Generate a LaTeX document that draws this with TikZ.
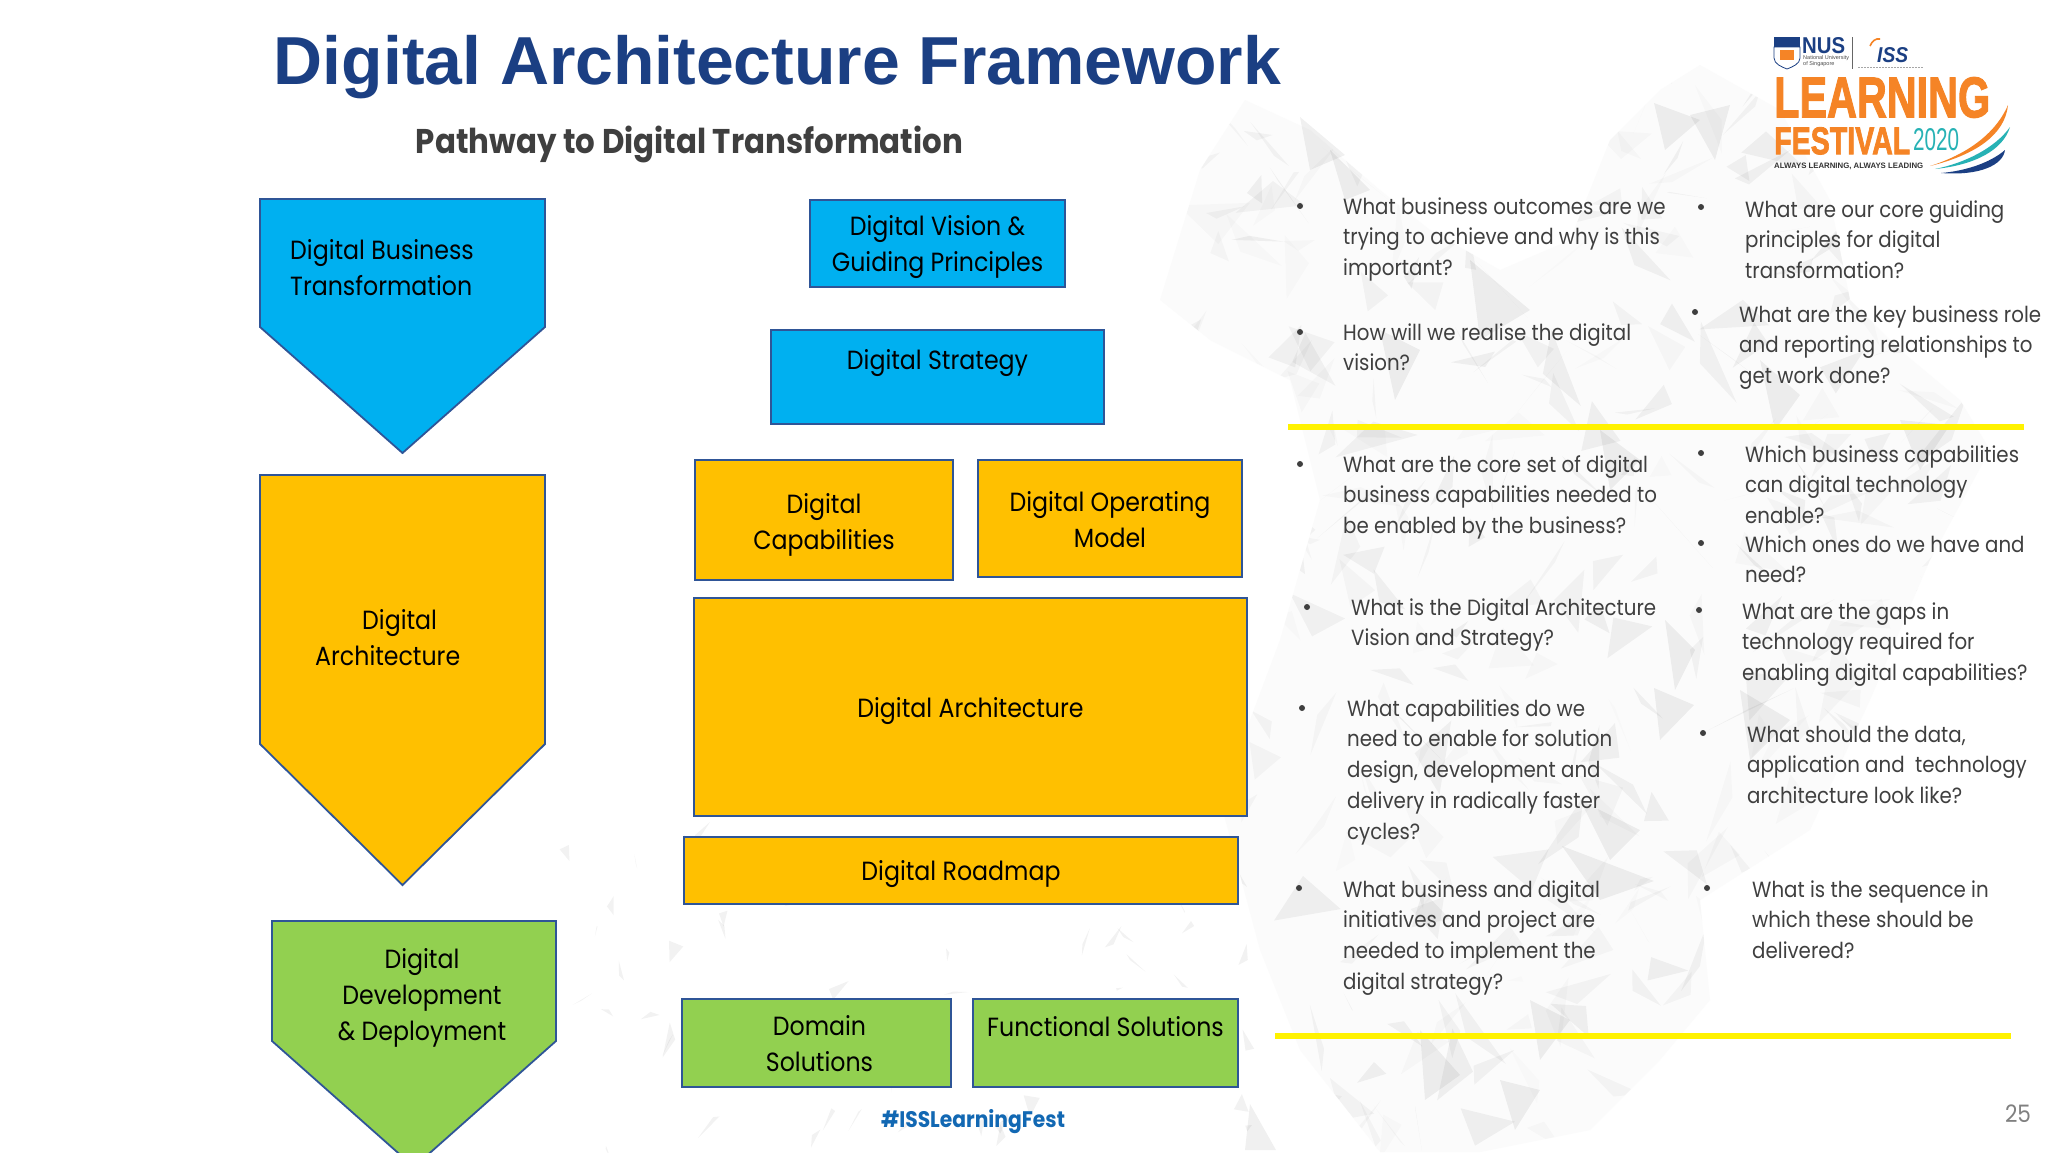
\documentclass[tikz,border=0pt]{standalone}
\usepackage{fontspec}
\usepackage{graphicx}
\setmainfont{Liberation Sans}
\newfontfamily\bodyfnt[FakeStretch=0.9]{Poppins}
\newfontfamily\titlefnt{Liberation Sans}
\newfontfamily\logofnt[BoldFeatures={FakeBold=2.2}]{Liberation Sans}
\definecolor{bluefill}{HTML}{00B0F0}
\definecolor{goldfill}{HTML}{FFC000}
\definecolor{greenfill}{HTML}{92D050}
\definecolor{edgeblue}{HTML}{2F5597}
\definecolor{titleblue}{HTML}{1B3F83}
\definecolor{bodygray}{HTML}{3F3F3F}
\definecolor{tagblue}{HTML}{1268B3}
\definecolor{logoorange}{HTML}{F58426}
\definecolor{logoteal}{HTML}{27B2B5}
\definecolor{logonavy}{HTML}{1B3F83}
\newcommand\qblock[4]{\node[qtext] (#1) at (#2,#3-17) {\rule{0pt}{24pt}#4};}
\newcommand\qdot[3]{\node[qbullet] (#1) at (#2,#3) {};}
\newcommand\lifted[1]{\rule{0pt}{#1pt}}
\tikzset{
  qtext/.style={anchor=north west,inner sep=0pt,align=left,text=bodygray,font=\bodyfnt\fontsize{22}{30.7}\selectfont},
  qbullet/.style={circle,fill=bodygray,inner sep=0pt,minimum size=6pt},
  boxlabel/.style={align=center,text=black,font=\bodyfnt\fontsize{26.3}{36}\selectfont},
  flowbox/.style={rectangle,draw=edgeblue,line width=1.8pt,inner sep=0pt,boxlabel},
  pentagon/.style={draw=edgeblue,line width=1.8pt,line join=miter},
  rule/.style={line width=5.5pt,yellow},
  logotext/.style={inner sep=0pt,anchor=north west}
}
\begin{document}
\begin{tikzpicture}[x=1pt,y=-1pt]
\useasboundingbox (0,0) rectangle (2048,1152);
\clip (0,0) rectangle (2048,1152);
\fill[white] (0,0) rectangle (2048,1152);
% --- low-poly background figure
\pgfmathsetseed{41}
\begin{scope}
\def\sil{(1160,300)--(1200,170)--(1245,100)--(1310,130)--(1380,190)--(1430,230)--(1500,270)--(1570,240)--(1610,140)--(1660,90)--(1700,65)--(1780,110)--(1830,200)--(1850,300)--(1900,350)--(1960,400)--(1990,450)--(1930,560)--(1870,700)--(1810,830)--(1700,900)--(1710,1000)--(1660,1060)--(1590,1130)--(1480,1152)--(1380,1152)--(1300,1050)--(1260,950)--(1220,800)--(1280,640)--(1320,500)--(1290,380)--(1210,340)--cycle}
\fill[black!1.5] \sil;
\clip \sil;
\foreach \i in {1,...,420}{
  \pgfmathsetmacro\ax{1150+850*rnd}
  \pgfmathsetmacro\ay{60+1090*rnd}
  \pgfmathsetmacro\bx{\ax+(rnd-.5)*90}
  \pgfmathsetmacro\by{\ay+(rnd-.5)*90}
  \pgfmathsetmacro\cx{\ax+(rnd-.5)*90}
  \pgfmathsetmacro\cy{\ay+(rnd-.5)*90}
  \pgfmathsetmacro\op{0.012+0.04*rnd}
  \fill[black,opacity=\op] (\ax,\ay)--(\bx,\by)--(\cx,\cy)--cycle;
}
\end{scope}
\foreach \pa/\pb/\pc in {
 {1300,117}/{1345,155}/{1310,170},{1330,150}/{1370,190}/{1345,200},
 {1654,103}/{1700,120}/{1665,150},{1690,115}/{1730,105}/{1715,160},
 {1654,688}/{1694,705}/{1660,740},{1665,620}/{1695,650}/{1675,690},
 {1562,846}/{1654,881}/{1600,900},{1580,800}/{1640,830}/{1610,860},
 {1250,1104}/{1276,1150}/{1245,1150},{1420,1030}/{1460,1075}/{1425,1100},
 {1530,1000}/{1570,1020}/{1540,1060},{1500,1080}/{1540,1090}/{1515,1130},
 {1740,690}/{1790,720}/{1750,760},{1470,260}/{1530,310}/{1480,340},
 {1380,330}/{1420,350}/{1395,400},{1600,430}/{1640,460}/{1610,490},
 {1760,360}/{1800,395}/{1775,430},{1900,420}/{1950,425}/{1920,470}}{
  \fill[black,opacity=.06] (\pa)--(\pb)--(\pc)--cycle;
}
% scattered shards, left of the figure
\foreach \i in {1,...,70}{
  \pgfmathsetmacro\ax{560+700*rnd}
  \pgfmathsetmacro\ay{830+320*rnd}
  \pgfmathsetmacro\bx{\ax+(rnd-.5)*34}
  \pgfmathsetmacro\by{\ay+(rnd-.5)*44}
  \pgfmathsetmacro\cx{\ax+(rnd-.5)*20}
  \pgfmathsetmacro\cy{\ay+(rnd-.5)*44}
  \fill[black,opacity=.05] (\ax,\ay)--(\bx,\by)--(\cx,\cy)--cycle;
}
% --- headings
\node[inner sep=0pt,text=titleblue,font=\titlefnt\bfseries\fontsize{67.9}{72}\selectfont] (title) at (777.5,67) {Digital Architecture Framework};
\node[inner sep=0pt,text=bodygray,font=\bodyfnt\bfseries\fontsize{34.3}{40}\selectfont] (subtitle) at (689.5,144) {Pathway to Digital Transformation};
% --- pentagons
\draw[pentagon,fill=bluefill] (260,199)--(545,199)--(545,327)--(402.5,453)--(260,327)--cycle;
\draw[pentagon,fill=goldfill] (260,475)--(545,475)--(545,744)--(402.5,885)--(260,744)--cycle;
\draw[pentagon,fill=greenfill] (272,921)--(556,921)--(556,1041)--(414,1167)--(272,1041)--cycle;
\node[boxlabel,align=left,anchor=north west,inner sep=0pt] (pdbt) at (290,235) {\rule{0pt}{24pt}Digital Business\\Transformation};
\node[boxlabel,align=left,anchor=north west,inner sep=0pt] (pda) at (315,605) {\rule{0pt}{24pt}\hspace*{47pt}Digital\\Architecture};
\node[boxlabel,anchor=north,inner sep=0pt] (pddd) at (422,944) {\rule{0pt}{24pt}Digital\\Development\\\& Deployment};
% --- boxes
\node[flowbox,fill=bluefill,minimum width=255pt,minimum height=87pt] (vision) at (937.5,243.5) {\lifted{28}Digital Vision \&\\Guiding Principles};
\node[flowbox,fill=bluefill,minimum width=333pt,minimum height=94pt] (strategy) at (937.5,377) {Digital Strategy\\[0pt]\mbox{}};
\node[flowbox,fill=goldfill,minimum width=258pt,minimum height=120pt] (caps) at (824,520) {\lifted{30}Digital\\Capabilities};
\node[flowbox,fill=goldfill,minimum width=264pt,minimum height=117pt] (opmodel) at (1110,518.5) {\lifted{22}Digital Operating\\Model};
\node[flowbox,fill=goldfill,minimum width=553pt,minimum height=218pt] (arch) at (970.5,707) {\lifted{28}Digital Architecture};
\node[flowbox,fill=goldfill,minimum width=554pt,minimum height=67pt] (roadmap) at (961,870.5) {\lifted{28}Digital Roadmap};
\node[flowbox,fill=greenfill,minimum width=269pt,minimum height=88pt] (domain) at (816.5,1043) {\lifted{22}\hspace*{6pt}Domain\\\hspace*{6pt}Solutions};
\node[flowbox,fill=greenfill,minimum width=265pt,minimum height=88pt] (functional) at (1105.5,1043) {\lifted{22}Functional Solutions\\\mbox{}};
% --- rules
\draw[rule] (1288,427)--(2024,427);
\draw[rule] (1275,1036)--(2011,1036);
% --- questions, left column
\qdot{b1}{1300}{206}\qblock{q1}{1343}{207}{What business outcomes are we\\trying to achieve and why is this\\important?}
\qdot{b2}{1300}{332}\qblock{q2}{1343}{333}{How will we realise the digital\\vision?}
\qdot{b3}{1300}{464}\qblock{q3}{1343}{465}{What are the core set of digital\\business capabilities needed to\\be enabled by the business?}
\qdot{b4}{1307}{607}\qblock{q4}{1351}{608}{What is the Digital Architecture\\Vision and Strategy?}
\qdot{b5}{1302}{708}\qblock{q5}{1347}{709}{What capabilities do we\\need to enable for solution\\design, development and\\delivery in radically faster\\cycles?}
\qdot{b6}{1299}{888}\qblock{q6}{1343}{890}{What business and digital\\initiatives and project are\\needed to implement the\\digital strategy?}
% --- questions, right column
\qdot{b7}{1701}{207}\qblock{q7}{1745}{210}{What are our core guiding\\principles for digital\\transformation?}
\qdot{b8}{1695}{312}\qblock{q8}{1739}{315}{What are the key business role\\and reporting relationships to\\get work done?}
\qdot{b9}{1701}{453}\qblock{q9}{1745}{455}{Which business capabilities\\can digital technology\\enable?}
\qdot{b10}{1701}{543}\qblock{q10}{1745}{545}{Which ones do we have and\\need?}
\qdot{b11}{1699}{610}\qblock{q11}{1742}{612}{What are the gaps in\\technology required for\\enabling digital capabilities?}
\qdot{b12}{1703}{733}\qblock{q12}{1747}{735}{What should the data,\\application and\ \ technology\\architecture look like?}
\qdot{b13}{1707}{888}\qblock{q13}{1752}{890}{What is the sequence in\\which these should be\\delivered?}
% --- footer
\node[inner sep=0pt,text=tagblue] (tag) at (973,1122) {\resizebox{184pt}{!}{\bodyfnt\fontsize{24}{28}\selectfont\bfseries \#ISSLearningFest}};
\node[inner sep=0pt,text=black!50,font=\bodyfnt\fontsize{24}{28}\selectfont] (page) at (2018,1114) {25};
% --- logo
\draw[line width=.6pt,black!60] (1852,37)--(1852,69);
\fill[logonavy] (1774,37) rectangle (1800,47);
\fill[white,draw=logonavy,line width=.8pt] (1774,47)--(1800,47)--(1800,58) .. controls (1800,64) and (1792,67) .. (1787,69) .. controls (1782,67) and (1774,64) .. (1774,58)--cycle;
\fill[logoorange] (1780,50) rectangle (1794,60);
\node[logotext,text=logonavy] (nus) at (1802,37) {\resizebox{43pt}{16pt}{\titlefnt\bfseries NUS}};
\node[logotext,text=black!70,align=left,font=\titlefnt\fontsize{5.5}{6.5}\selectfont] (nusname) at (1803,55) {National University\\of Singapore};
\node[logotext,text=logonavy] (iss) at (1877,47) {\resizebox{31pt}{15pt}{\titlefnt\bfseries\itshape ISS}};
\draw[line width=1.6pt,logoorange] (1870,46) .. controls (1872,41) and (1876,38) .. (1880,39);
\draw[line width=1.2pt,black!35,dash pattern=on 2pt off 1pt] (1858,67.5)--(1923,67.5);
\node[logotext,text=logoorange] (learn) at (1774,77) {\resizebox{216pt}{40pt}{\logofnt\bfseries LEARNING}};
\node[logotext,text=logoorange] (fest) at (1774,127) {\resizebox{136pt}{27pt}{\logofnt\bfseries FESTIVAL}};
\node[logotext,text=logoteal] (yr) at (1913,128) {\resizebox{46pt}{22pt}{\titlefnt 2020}};
\node[logotext,text=black!80] (motto) at (1774,163) {\resizebox{149pt}{5.5pt}{\titlefnt\bfseries ALWAYS LEARNING, ALWAYS LEADING}};
\fill[logoorange] (1930,166) .. controls (1965,155) and (1995,135) .. (2008,105) .. controls (2005,135) and (1975,155) .. cycle;
\fill[logoteal] (1935,169) .. controls (1965,163) and (1995,148) .. (2010,127) .. controls (2003,150) and (1975,165) .. cycle;
\fill[logonavy] (1941,173) .. controls (1965,171) and (1990,163) .. (2005,150) .. controls (2003,165) and (1980,176) .. cycle;
\end{tikzpicture}
\end{document}
